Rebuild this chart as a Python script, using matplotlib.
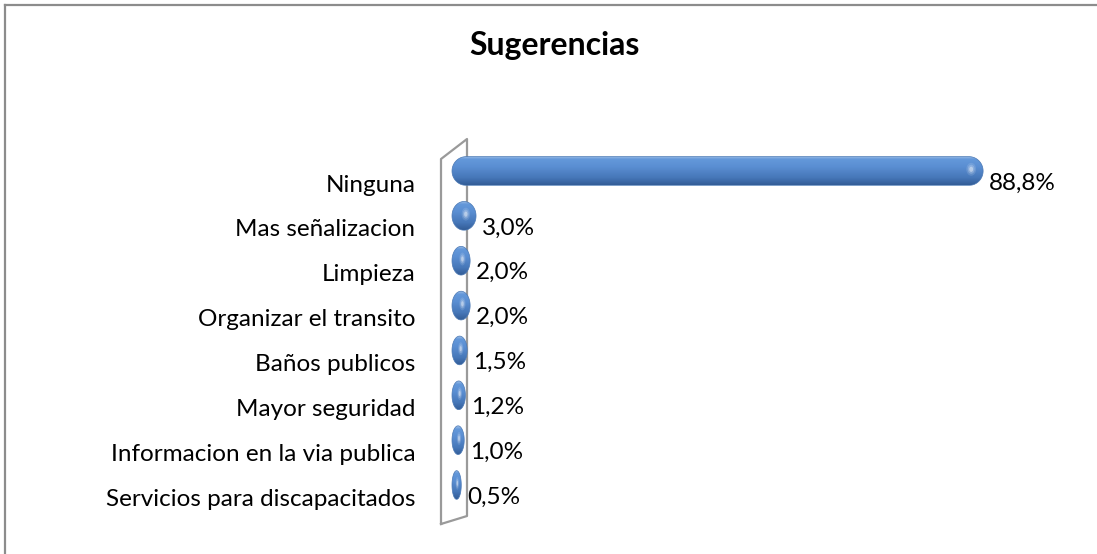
import numpy as np
import matplotlib
matplotlib.use("Agg")
import matplotlib.pyplot as plt
from matplotlib.path import Path
from matplotlib.patches import PathPatch, Ellipse
from matplotlib.colors import LinearSegmentedColormap

plt.rcParams['font.family'] = ['Lato', 'DejaVu Sans']

categorias = ['Ninguna', 'Mas señalizacion', 'Limpieza', 'Organizar el transito',
              'Baños publicos', 'Mayor seguridad', 'Informacion en la via publica',
              'Servicios para discapacitados']
valores = [88.8, 3.0, 2.0, 2.0, 1.5, 1.2, 1.0, 0.5]
etiquetas = ['88,8%', '3,0%', '2,0%', '2,0%', '1,5%', '1,2%', '1,0%', '0,5%']

W, H = 1097, 554
fig = plt.figure(figsize=(W / 100, H / 100), dpi=100)

# chart border (only top and left show in the picture)
fig.add_artist(plt.Line2D([5 / W, 5 / W], [0, 1 - 5 / H], color='#8c8c8c', lw=1.6))
fig.add_artist(plt.Line2D([5 / W, 1], [1 - 5 / H, 1 - 5 / H], color='#8c8c8c', lw=1.6))

fig.text(555 / W, 1 - 46 / H, 'Sugerencias', ha='center', va='center',
         fontsize=23, fontweight='bold')

# axes placed in pixels
ax_l, ax_r, ax_t, ax_b = 441, 1060, 139, 524
ax = fig.add_axes([ax_l / W, 1 - ax_b / H, (ax_r - ax_l) / W, (ax_b - ax_t) / H])
sx = 5.91            # px per percent
x0px = 452           # px of zero
sy = 44.86           # px per category
y0px = 183
xlim = ((ax_l - x0px) / sx, (ax_r - x0px) / sx)
ylim = ((ax_b - y0px) / sy, (ax_t - y0px) / sy)

for s in ax.spines.values():
    s.set_visible(False)
ax.set_xticks([])
ax.set_yticks(range(len(categorias)))
ax.set_yticklabels(categorias, fontsize=17.5)
ax.tick_params(axis='y', length=0, pad=18.5)

# back wall (3D look)
wall_x = [xlim[0], xlim[0], (467 - x0px) / sx, (467 - x0px) / sx, xlim[0]]
wall_y = [(524 - y0px) / sy, (159 - y0px) / sy, (139 - y0px) / sy,
          (516 - y0px) / sy, (524 - y0px) / sy]
ax.plot(wall_x, wall_y, color='#9a9a9a', lw=1.6, zorder=1, clip_on=False)

cmap = LinearSegmentedColormap.from_list('cyl', [
    (0.0, '#9bbce6'), (0.1, '#6398da'), (0.35, '#5b8fd3'),
    (0.75, '#4677b8'), (1.0, '#335d97')])
grad = np.linspace(0, 1, 64).reshape(-1, 1)

bar_h = 0.64
y_off = -12 / sy
extra = 6.3 / sx
cap_max = 14 / sx
for i, v in enumerate(valores):
    yc = i + y_off
    x1 = v + extra
    rx = min(cap_max, x1 / 2)
    ry = bar_h / 2
    t1 = np.linspace(-np.pi / 2, np.pi / 2, 40)
    t2 = np.linspace(np.pi / 2, 3 * np.pi / 2, 40)
    px = np.concatenate([x1 - rx + rx * np.cos(t1), rx + rx * np.cos(t2)])
    py = np.concatenate([yc - ry * np.sin(t1), yc - ry * np.sin(t2)])
    verts = np.column_stack([px, py])
    verts = np.vstack([verts, verts[:1]])
    codes = [Path.MOVETO] + [Path.LINETO] * (len(verts) - 2) + [Path.CLOSEPOLY]
    patch = PathPatch(Path(verts, codes), facecolor='none', edgecolor='#4a78b4',
                      lw=0.5, zorder=3)
    ax.add_patch(patch)
    im = ax.imshow(grad, cmap=cmap, aspect='auto', origin='upper',
                   extent=(0, x1, yc + ry, yc - ry), zorder=2, interpolation='bilinear')
    im.set_clip_path(patch)
    # soft highlight near the right end
    hl_x = x1 - rx * 0.85
    for k, a in [(1.0, 0.12), (0.7, 0.2), (0.4, 0.4)]:
        ax.add_patch(Ellipse((hl_x, yc - ry * 0.12), width=rx * 0.7 * k,
                             height=ry * 0.9 * k, facecolor='white', alpha=a,
                             edgecolor='none', zorder=4))
    ax.text(x1 + 6 / sx, i, etiquetas[i], va='center', ha='left', fontsize=17.5)

ax.set_xlim(*xlim)
ax.set_ylim(*ylim)

fig.savefig('out.png', dpi=100)
